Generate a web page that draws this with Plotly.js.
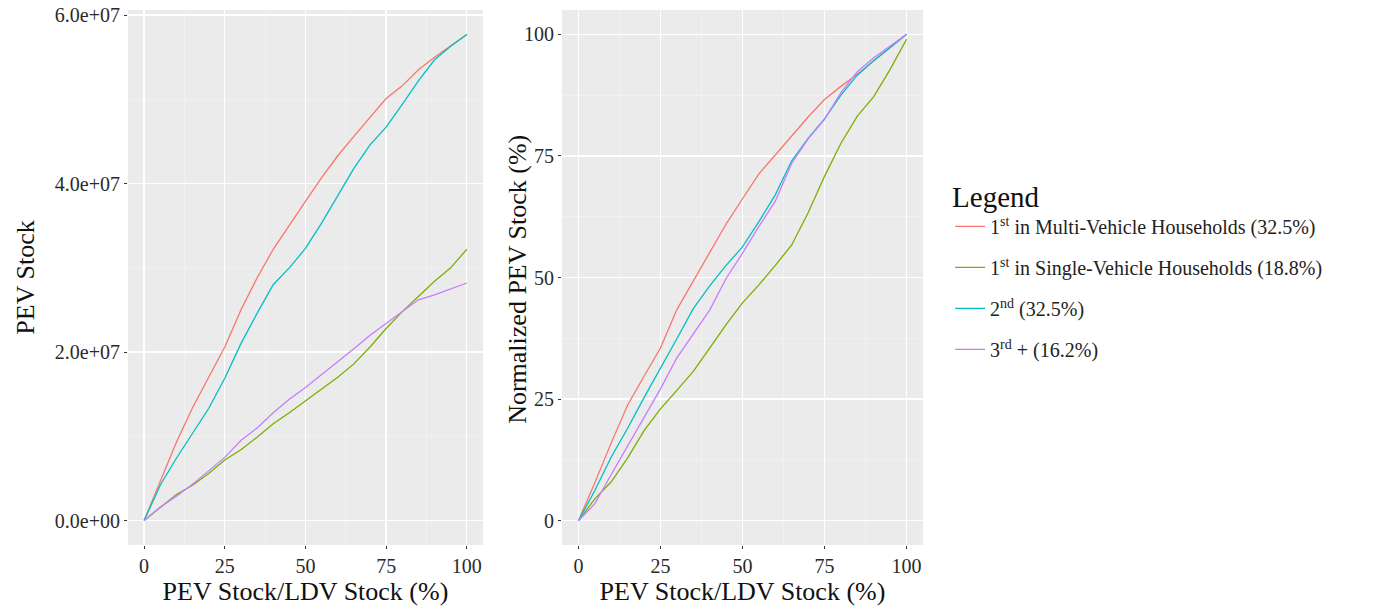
<!DOCTYPE html>
<html>
<head>
<meta charset="utf-8">
<script src="https://cdn.plot.ly/plotly-3.0.1.min.js"></script>
<style>
html,body{margin:0;padding:0;background:#fff;}
#chart{width:1385px;height:615px;}
</style>
</head>
<body>
<div id="chart"></div>
<script>
// Share of PEV stock in LDV stock (%)
const pevShare = [0,5,10,15,20,25,30,35,40,45,50,55,60,65,70,75,80,85,90,95,100];

// Series names (legend)
const seriesNames = [
  "1<sup>st</sup> in Multi-Vehicle Households (32.5%)",
  "1<sup>st</sup> in Single-Vehicle Households (18.8%)",
  "2<sup>nd</sup> (32.5%)",
  "3<sup>rd</sup> + (16.2%)"
];
const seriesColors = ["#F8766D", "#7CAE00", "#00BFC4", "#C77CFF"];

// Left panel: PEV stock (millions)
const stockMultiFirst  = [0,4.6,9.3,13.4,17.0,20.6,25.0,28.8,32.2,35.1,37.9,40.7,43.3,45.6,47.9,50.1,51.6,53.5,55.0,56.4,57.7];
const stockSingleFirst = [0,1.6,3.1,4.2,5.6,7.2,8.4,9.9,11.5,12.8,14.2,15.5,17.0,18.6,20.6,22.8,24.8,26.6,28.4,30.0,32.2];
const stockSecond      = [0,4.2,7.4,10.3,13.3,16.9,21.0,24.6,28.0,30.0,32.3,35.3,38.6,41.8,44.6,46.7,49.4,52.2,54.7,56.3,57.7];
const stockThirdPlus   = [0,1.6,2.9,4.3,5.9,7.5,9.5,11.0,12.8,14.4,15.8,17.3,18.9,20.4,22.0,23.4,24.8,26.2,26.8,27.5,28.2];

// Right panel: normalized PEV stock (%)
const normMultiFirst  = [0,7.8,16.0,23.8,29.7,35.5,43.4,49.2,55.1,61.0,66.2,71.3,75.2,79.1,83.0,86.6,89.3,91.8,94.5,97.2,100];
const normSingleFirst = [0,4.5,8.0,12.9,18.5,23.0,26.8,30.7,35.5,40.3,44.8,48.5,52.5,56.7,63.3,70.8,77.6,83.2,87.2,92.8,99.0];
const normSecond      = [0,6.2,13.1,19.0,25.3,31.2,37.4,43.6,48.3,52.5,56.3,61.5,67.0,74.0,78.6,82.6,87.5,91.6,94.6,97.3,100];
const normThirdPlus   = [0,3.5,9.5,15.4,21.2,27.1,33.5,38.3,43.3,49.8,55.0,60.5,65.7,73.5,78.5,82.5,88.0,92.3,95.2,97.6,100];

const leftTickVals = [0, 2e7, 4e7, 6e7];
const leftTickText = ["0.0e+00", "2.0e+07", "4.0e+07", "6.0e+07"];
const xTickVals = [0, 25, 50, 75, 100];
const rightTickVals = [0, 25, 50, 75, 100];

const leftSeries = [stockMultiFirst, stockSingleFirst, stockSecond, stockThirdPlus];
const rightSeries = [normMultiFirst, normSingleFirst, normSecond, normThirdPlus];

const traces = [];
for (let i = 0; i < 4; i++) {
  traces.push({
    x: pevShare, y: leftSeries[i].map(v => v * 1e6),
    type: "scatter", mode: "lines",
    name: seriesNames[i], legendgroup: "g" + i, showlegend: true,
    line: {color: seriesColors[i], width: 1.3},
    xaxis: "x", yaxis: "y"
  });
}
for (let i = 0; i < 4; i++) {
  traces.push({
    x: pevShare, y: rightSeries[i],
    type: "scatter", mode: "lines",
    name: seriesNames[i], legendgroup: "g" + i, showlegend: false,
    line: {color: seriesColors[i], width: 1.3},
    xaxis: "x2", yaxis: "y2"
  });
}

const font = "Liberation Serif, Times New Roman, serif";
const tickFont = {family: font, size: 20, color: "#2a2a2a"};
const titleFont = {family: font, size: 26, color: "#111"};

function axisBase() {
  return {
    showgrid: true, gridcolor: "#FFFFFF", gridwidth: 1.3,
    zeroline: false, showline: false,
    ticks: "outside", ticklen: 3, tickcolor: "#333", tickwidth: 1,
    tickfont: tickFont, fixedrange: true
  };
}
const minorGrid = {showgrid: true, gridcolor: "#F4F4F4", gridwidth: 0.7, ticks: ""};

const layout = {
  width: 1385, height: 615,
  margin: {l: 0, r: 0, t: 0, b: 0},
  paper_bgcolor: "#FFFFFF",
  plot_bgcolor: "#EBEBEB",
  font: {family: font, color: "#111"},
  showlegend: true,
  xaxis: Object.assign(axisBase(), {
    domain: [0.0924, 0.3487], anchor: "y",
    range: [-5, 105], tickmode: "array", tickvals: xTickVals,
    minor: Object.assign({tickmode: "array", tickvals: [12.5, 37.5, 62.5, 87.5]}, minorGrid),
    title: {text: "PEV Stock/LDV Stock (%)", font: titleFont, standoff: 4}
  }),
  yaxis: Object.assign(axisBase(), {
    domain: [0.1138, 0.9837], anchor: "x",
    range: [-2.9e6, 60.6e6], tickmode: "array", tickvals: leftTickVals, ticktext: leftTickText,
    minor: Object.assign({tickmode: "array", tickvals: [1e7, 3e7, 5e7]}, minorGrid),
    title: {text: "PEV Stock", font: titleFont, standoff: 12}
  }),
  xaxis2: Object.assign(axisBase(), {
    domain: [0.4058, 0.6664], anchor: "y2",
    range: [-5, 105], tickmode: "array", tickvals: xTickVals,
    minor: Object.assign({tickmode: "array", tickvals: [12.5, 37.5, 62.5, 87.5]}, minorGrid),
    title: {text: "PEV Stock/LDV Stock (%)", font: titleFont, standoff: 4}
  }),
  yaxis2: Object.assign(axisBase(), {
    domain: [0.1138, 0.9837], anchor: "x2",
    range: [-5, 105], tickmode: "array", tickvals: rightTickVals,
    minor: Object.assign({tickmode: "array", tickvals: [12.5, 37.5, 62.5, 87.5]}, minorGrid)
  }),
  annotations: [{
    text: "Normalized PEV Stock (%)",
    xref: "paper", yref: "paper",
    x: 518 / 1385, y: 0.545, xanchor: "center", yanchor: "middle",
    textangle: -90, showarrow: false,
    font: titleFont
  }],
  legend: {
    x: 0.686, xanchor: "left", y: 0.725, yanchor: "top",
    bgcolor: "rgba(0,0,0,0)",
    title: {text: "Legend", font: {family: font, size: 29, color: "#111"}},
    font: {family: font, size: 20, color: "#222"},
    tracegroupgap: 12,
    itemwidth: 30
  }
};

Plotly.newPlot("chart", traces, layout, {displayModeBar: false, staticPlot: true});
</script>
</body>
</html>
